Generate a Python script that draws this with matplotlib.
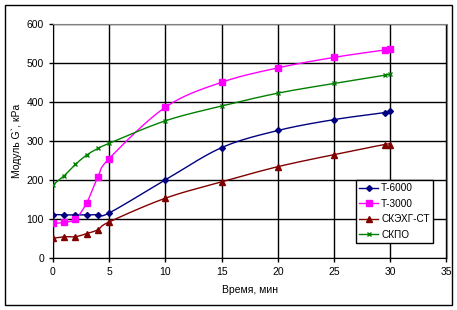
import numpy as np
import matplotlib
matplotlib.use("Agg")
import matplotlib.pyplot as plt
from matplotlib.patches import Rectangle

plt.rcParams['font.family'] = ['Liberation Sans', 'DejaVu Sans']

# time, min
t = [0, 1, 2, 3, 4, 5, 10, 15, 20, 25, 29.5, 30]

# modulus G', kPa
t6000 = [111, 110, 110, 110, 111, 115, 200, 283, 327, 355, 373, 376]
t3000 = [88, 91, 100, 141, 208, 255, 387, 451, 488, 515, 534, 536]
skeht = [50, 54, 54, 62, 72, 92, 153, 195, 234, 265, 291, 291]
skpo = [187, 211, 240, 264, 281, 294, 352, 390, 423, 448, 469, 473]

names = ['Т-6000', 'Т-3000', 'СКЭХГ-СТ', 'СКПО']


def smooth(x, y, n=20):
    # catmull-rom through the points, roughly like excel's smoothed line
    x = np.asarray(x, float)
    y = np.asarray(y, float)
    px = np.concatenate([[2*x[0]-x[1]], x, [2*x[-1]-x[-2]]])
    py = np.concatenate([[2*y[0]-y[1]], y, [2*y[-1]-y[-2]]])
    xs, ys = [], []
    s = np.linspace(0, 1, n)
    for i in range(1, len(px)-2):
        for p, out in ((px, xs), (py, ys)):
            p0, p1, p2, p3 = p[i-1], p[i], p[i+1], p[i+2]
            out.extend(0.5*((2*p1) + (-p0+p2)*s + (2*p0-5*p1+4*p2-p3)*s**2
                            + (-p0+3*p1-3*p2+p3)*s**3))
    return xs, ys


fig = plt.figure(figsize=(4.57, 3.10), dpi=100)
ax = fig.add_axes([53/457, 1-257.7/310, (446.5-53)/457, (257.7-24.3)/310])

series = [
    (t6000, '#000080', 'D', 3),
    (t3000, '#FF00FF', 's', 3.8),
    (skeht, '#800000', '^', 4.3),
    (skpo, '#008000', 'x', 3.5),
]
handles = []
for (vals, col, mk, ms), name in zip(series, names):
    sx, sy = smooth(t, vals)
    ax.plot(sx, sy, color=col, lw=1, zorder=3)
    ax.plot(t, vals, ls='none', marker=mk, ms=ms, color=col, mec=col, mew=1, zorder=4)
    h, = ax.plot([], [], color=col, lw=1, marker=mk, ms=ms, mec=col, mew=1)
    handles.append(h)

ax.set_xlim(0, 35)
ax.set_ylim(0, 600)
ax.set_xticks(range(0, 36, 5))
ax.set_yticks(range(0, 601, 100))
ax.grid(True, color='black', lw=1)
ax.set_axisbelow(True)
ax.tick_params(labelsize=7.5, length=3, width=1, color='black')
for side in ['top', 'right']:
    ax.spines[side].set_color('#808080')
ax.spines['left'].set_color('black')
ax.spines['bottom'].set_color('black')

ax.set_xlabel('Время, мин', fontsize=7.5, labelpad=6)
ax.set_ylabel('Модуль G`, кPa', fontsize=7.5, labelpad=3)

leg = ax.legend(handles, names, loc='upper left', bbox_to_anchor=(0.769, 0.335),
                fontsize=7.2, frameon=True, fancybox=False, edgecolor='black',
                framealpha=1, handlelength=1.9, handletextpad=0.3,
                borderpad=0.35, labelspacing=0.55, borderaxespad=0)
leg.get_frame().set_linewidth(1)

fig.patches.append(Rectangle((4.5/457, 1-305/310), 447.5/457, 300.5/310,
                             transform=fig.transFigure, fill=False,
                             edgecolor='black', lw=1))

fig.savefig('out.png', dpi=100)
